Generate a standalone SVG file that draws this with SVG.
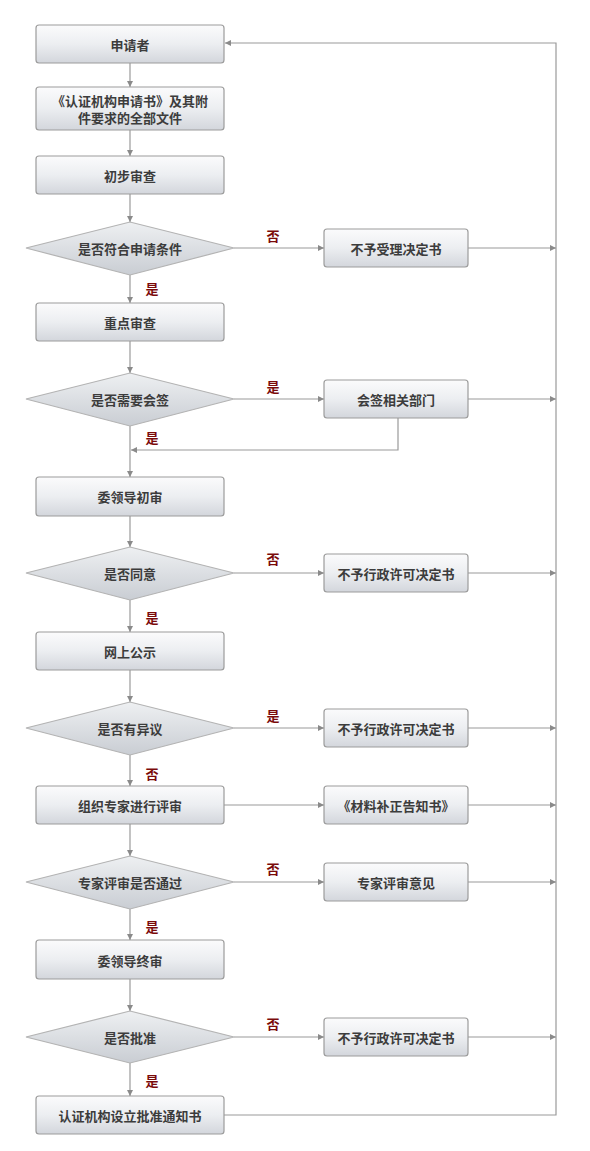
<svg xmlns="http://www.w3.org/2000/svg" width="590" height="1151" viewBox="0 0 590 1151">
<defs>
<linearGradient id="gb" x1="0" y1="0" x2="0" y2="1">
<stop offset="0" stop-color="#fbfbfc"/>
<stop offset="0.5" stop-color="#eceef1"/>
<stop offset="1" stop-color="#d3d6dc"/>
</linearGradient>
<linearGradient id="gd" x1="0" y1="0" x2="0" y2="1">
<stop offset="0" stop-color="#eef0f2"/>
<stop offset="1" stop-color="#c9cdd3"/>
</linearGradient>
<marker id="ar" markerWidth="8" markerHeight="8" refX="6" refY="3" orient="auto" markerUnits="userSpaceOnUse">
<path d="M0,0 L6,3 L0,6 Z" fill="#8a8a8a"/>
</marker>
<style>
.box{fill:url(#gb);stroke:#9c9c9c;stroke-width:1.2}
.dia{fill:url(#gd);stroke:#b3b3b3;stroke-width:1.2}
.t{font-family:"Noto Sans CJK SC","Liberation Sans",sans-serif;font-size:13px;font-weight:bold;fill:#3c3c3c;text-anchor:middle;dominant-baseline:central}
.l{font-family:"Noto Sans CJK SC","Liberation Sans",sans-serif;font-size:13px;font-weight:bold;fill:#7a0a0a;text-anchor:middle;dominant-baseline:central}
.c{fill:none;stroke:#9a9a9a;stroke-width:1.2}
.ca{fill:none;stroke:#9a9a9a;stroke-width:1.2;marker-end:url(#ar)}
</style>
</defs>
<rect width="590" height="1151" fill="#ffffff"/>

<g id="connectors">
<path class="ca" d="M130,63 V87"/>
<path class="ca" d="M130,130 V156"/>
<path class="ca" d="M130,194 V222"/>
<path class="ca" d="M130,275 V303"/>
<path class="ca" d="M130,341 V373"/>
<path class="ca" d="M130,426 V477"/>
<path class="ca" d="M398,417 V450 H131"/>
<path class="ca" d="M130,516 V547"/>
<path class="ca" d="M130,600 V632"/>
<path class="ca" d="M130,670 V702"/>
<path class="ca" d="M130,755 V786"/>
<path class="ca" d="M130,824 V856"/>
<path class="ca" d="M130,909 V940"/>
<path class="ca" d="M130,979 V1011"/>
<path class="ca" d="M130,1063 V1096"/>
<path class="ca" d="M234,248 H324"/>
<path class="ca" d="M234,399 H324"/>
<path class="ca" d="M234,573 H324"/>
<path class="ca" d="M234,728 H324"/>
<path class="ca" d="M224,805 H324"/>
<path class="ca" d="M234,882 H324"/>
<path class="ca" d="M234,1037 H324"/>
<path class="ca" d="M468,248 H556"/>
<path class="ca" d="M468,399 H556"/>
<path class="ca" d="M468,573 H556"/>
<path class="ca" d="M468,728 H556"/>
<path class="ca" d="M468,805 H556"/>
<path class="ca" d="M468,882 H556"/>
<path class="ca" d="M468,1037 H556"/>
<path class="ca" d="M224,1115 H556 V43 H225"/>
<text class="l" x="273" y="235">否</text>
<text class="l" x="152" y="288">是</text>
<text class="l" x="273" y="386">是</text>
<text class="l" x="152" y="437">是</text>
<text class="l" x="273" y="558">否</text>
<text class="l" x="152" y="617">是</text>
<text class="l" x="273" y="715">是</text>
<text class="l" x="152" y="773">否</text>
<text class="l" x="273" y="868">否</text>
<text class="l" x="152" y="926">是</text>
<text class="l" x="273" y="1023">否</text>
<text class="l" x="152" y="1080">是</text>
</g>

<g id="n1"><rect class="box" x="36" y="25" width="188" height="38" rx="3"/><text class="t" x="130" y="44">申请者</text></g>
<g id="n2"><rect class="box" x="36" y="87" width="188" height="43" rx="3"/><text class="t" x="130" y="100">《认证机构申请书》及其附</text><text class="t" x="130" y="117">件要求的全部文件</text></g>
<g id="n3"><rect class="box" x="36" y="156" width="188" height="38" rx="3"/><text class="t" x="130" y="175">初步审查</text></g>
<g id="d1"><polygon class="dia" points="26,248 130,222 234,248 130,275"/><text class="t" x="130" y="248">是否符合申请条件</text></g>
<g id="r1"><rect class="box" x="324" y="229" width="144" height="38" rx="3"/><text class="t" x="396" y="248">不予受理决定书</text></g>
<g id="n4"><rect class="box" x="36" y="303" width="188" height="38" rx="3"/><text class="t" x="130" y="322">重点审查</text></g>
<g id="d2"><polygon class="dia" points="26,399 130,373 234,399 130,426"/><text class="t" x="130" y="399">是否需要会签</text></g>
<g id="r2"><rect class="box" x="324" y="380" width="144" height="38" rx="3"/><text class="t" x="396" y="399">会签相关部门</text></g>
<g id="n5"><rect class="box" x="36" y="477" width="188" height="39" rx="3"/><text class="t" x="130" y="496">委领导初审</text></g>
<g id="d3"><polygon class="dia" points="26,573 130,547 234,573 130,600"/><text class="t" x="130" y="573">是否同意</text></g>
<g id="r3"><rect class="box" x="324" y="554" width="144" height="38" rx="3"/><text class="t" x="396" y="573">不予行政许可决定书</text></g>
<g id="n6"><rect class="box" x="36" y="632" width="188" height="38" rx="3"/><text class="t" x="130" y="651">网上公示</text></g>
<g id="d4"><polygon class="dia" points="26,728 130,702 234,728 130,755"/><text class="t" x="130" y="728">是否有异议</text></g>
<g id="r4"><rect class="box" x="324" y="709" width="144" height="38" rx="3"/><text class="t" x="396" y="728">不予行政许可决定书</text></g>
<g id="n7"><rect class="box" x="36" y="786" width="188" height="38" rx="3"/><text class="t" x="130" y="805">组织专家进行评审</text></g>
<g id="r5"><rect class="box" x="324" y="786" width="144" height="38" rx="3"/><text class="t" x="396" y="805">《材料补正告知书》</text></g>
<g id="d5"><polygon class="dia" points="26,882 130,856 234,882 130,909"/><text class="t" x="130" y="882">专家评审是否通过</text></g>
<g id="r6"><rect class="box" x="324" y="863" width="144" height="38" rx="3"/><text class="t" x="396" y="882">专家评审意见</text></g>
<g id="n8"><rect class="box" x="36" y="940" width="188" height="39" rx="3"/><text class="t" x="130" y="960">委领导终审</text></g>
<g id="d6"><polygon class="dia" points="26,1037 130,1011 234,1037 130,1063"/><text class="t" x="130" y="1037">是否批准</text></g>
<g id="r7"><rect class="box" x="324" y="1018" width="144" height="38" rx="3"/><text class="t" x="396" y="1037">不予行政许可决定书</text></g>
<g id="n9"><rect class="box" x="36" y="1096" width="188" height="38" rx="3"/><text class="t" x="130" y="1115">认证机构设立批准通知书</text></g>
</svg>
